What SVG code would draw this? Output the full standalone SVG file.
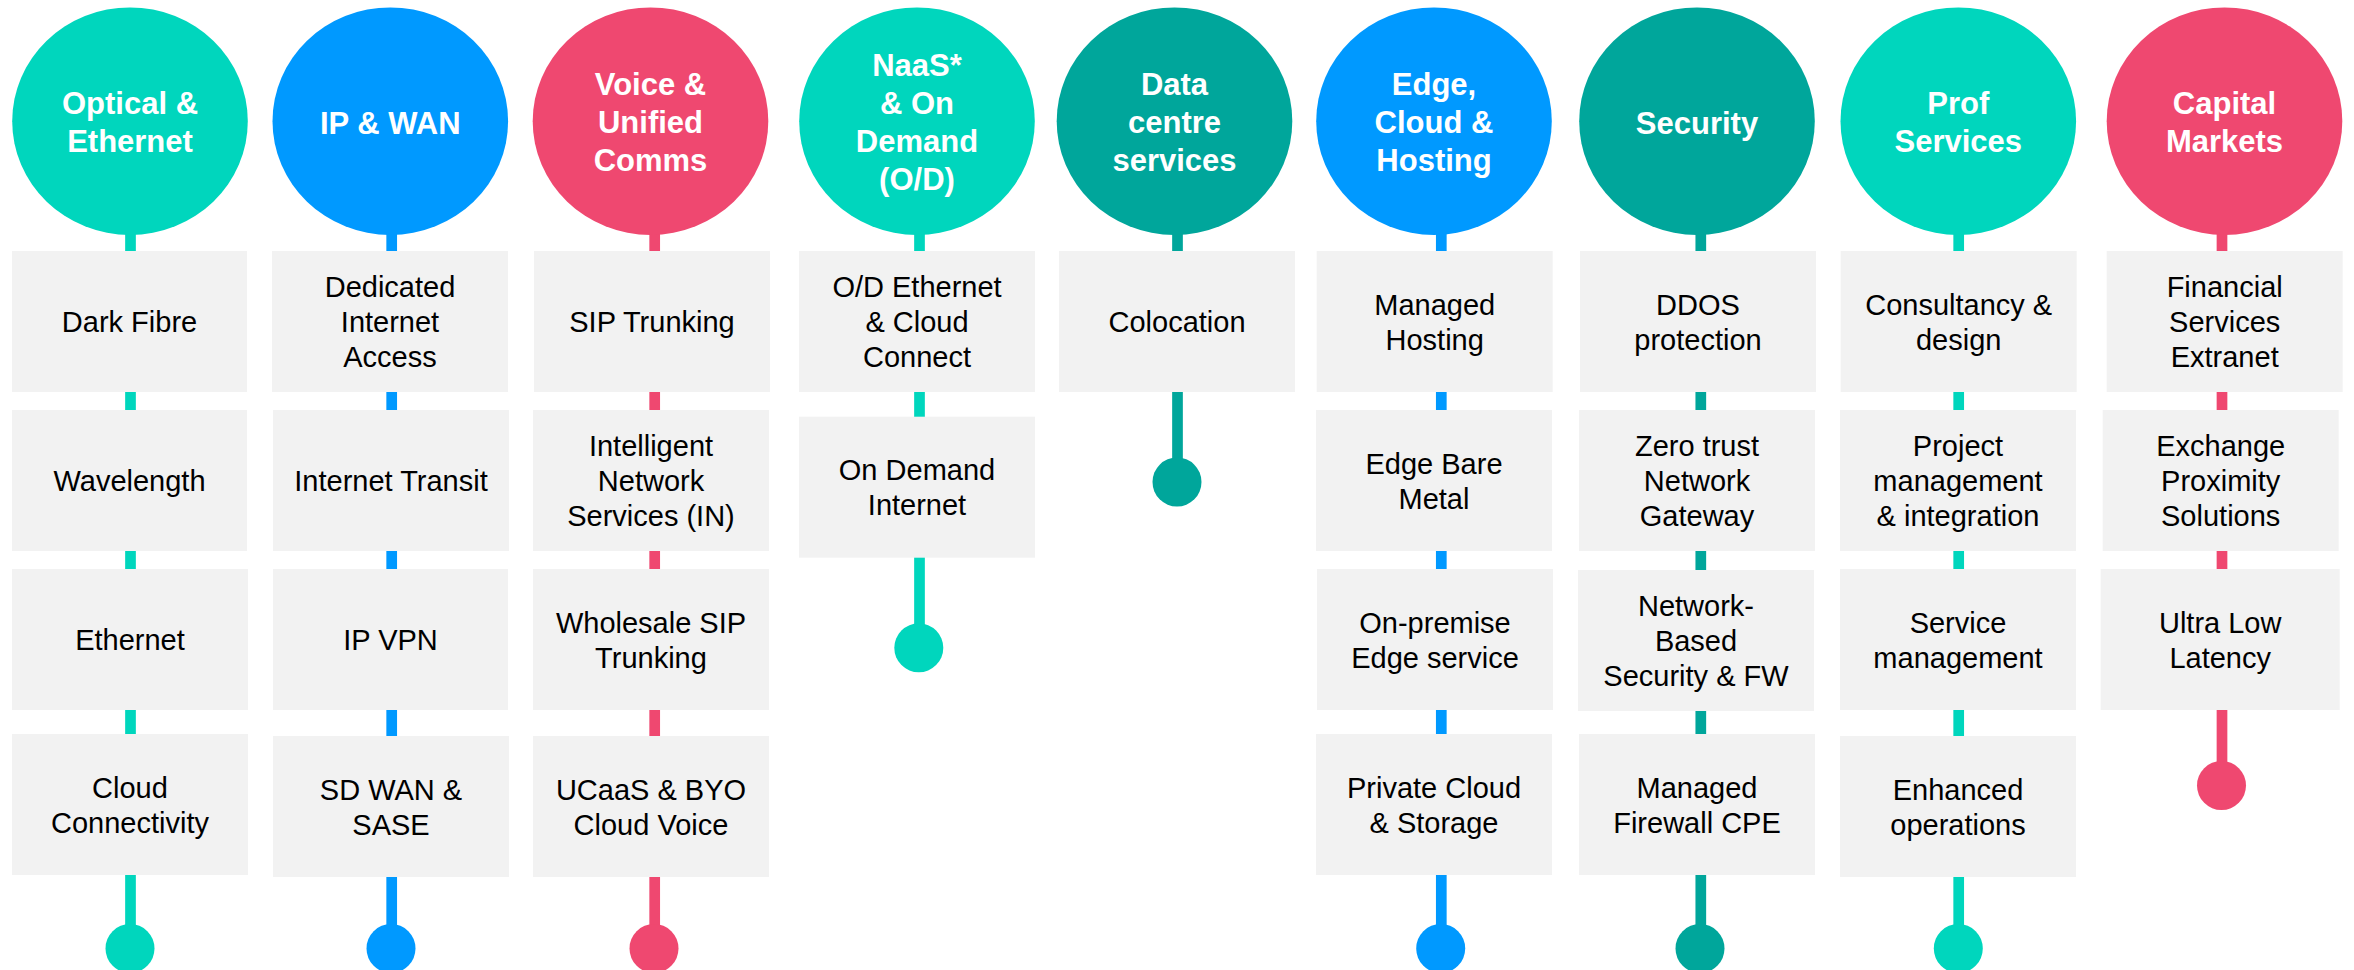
<svg xmlns="http://www.w3.org/2000/svg" width="2354" height="970" viewBox="0 0 2354 970">
<style>
.teal{fill:#00D6BD}.blue{fill:#0099FF}.pink{fill:#EF4870}.dark{fill:#00A69B}
.lteal{stroke:#00D6BD}.lblue{stroke:#0099FF}.lpink{stroke:#EF4870}.ldark{stroke:#00A69B}
.ln{stroke-width:10.7;fill:none}
.box{fill:#F2F2F2}
.hd{font-family:"Liberation Sans",Arial,sans-serif;font-weight:bold;font-size:31px;fill:#FFFFFF;text-anchor:middle}
.bt{font-family:"Liberation Sans",Arial,sans-serif;font-size:29px;fill:#000000;text-anchor:middle}
</style>
<rect width="2354" height="970" fill="#FFFFFF"/>
<g id="connectors">
<line class="ln lteal" x1="130.5" y1="200" x2="130.5" y2="948"/><circle class="teal" cx="130" cy="948.5" r="24.5"/>
<line class="ln lblue" x1="391.7" y1="200" x2="391.7" y2="948"/><circle class="blue" cx="391" cy="948.5" r="24.5"/>
<line class="ln lpink" x1="654.7" y1="200" x2="654.7" y2="948"/><circle class="pink" cx="654" cy="948.5" r="24.5"/>
<line class="ln lteal" x1="919.5" y1="200" x2="919.5" y2="647"/><circle class="teal" cx="918.8" cy="647.8" r="24.5"/>
<line class="ln ldark" x1="1177.5" y1="200" x2="1177.5" y2="482"/><circle class="dark" cx="1177" cy="482" r="24.5"/>
<line class="ln lblue" x1="1441.3" y1="200" x2="1441.3" y2="948"/><circle class="blue" cx="1440.7" cy="948.5" r="24.5"/>
<line class="ln ldark" x1="1700.8" y1="200" x2="1700.8" y2="948"/><circle class="dark" cx="1700" cy="948.5" r="24.5"/>
<line class="ln lteal" x1="1958.7" y1="200" x2="1958.7" y2="948"/><circle class="teal" cx="1958.3" cy="948.5" r="24.5"/>
<line class="ln lpink" x1="2222" y1="200" x2="2222" y2="785"/><circle class="pink" cx="2221.5" cy="785.5" r="24.5"/>
</g>

<g id="col1">
<g id="h1"><ellipse class="teal" cx="130" cy="121.2" rx="117.8" ry="113.8"/><text class="hd" x="130" y="114">Optical &amp;<tspan x="130" dy="38">Ethernet</tspan></text></g>
<g id="n1a"><rect class="box" x="12" y="251" width="235" height="141"/><text class="bt" x="129.5" y="331.5">Dark Fibre</text></g>
<g id="n1b"><rect class="box" x="12" y="410" width="235" height="141"/><text class="bt" x="129.5" y="490.5">Wavelength</text></g>
<g id="n1c"><rect class="box" x="12" y="569" width="236" height="141"/><text class="bt" x="130" y="649.5">Ethernet</text></g>
<g id="n1d"><rect class="box" x="12" y="734" width="236" height="141"/><text class="bt" x="130" y="797.5">Cloud<tspan x="130" dy="35">Connectivity</tspan></text></g>
</g>

<g id="col2">
<g id="h2"><ellipse class="blue" cx="390.3" cy="121.2" rx="117.8" ry="113.8"/><text class="hd" x="390.3" y="133.5">IP &amp; WAN</text></g>
<g id="n2a"><rect class="box" x="272" y="251" width="236" height="141"/><text class="bt" x="390" y="297">Dedicated<tspan x="390" dy="35">Internet</tspan><tspan x="390" dy="35">Access</tspan></text></g>
<g id="n2b"><rect class="box" x="273" y="410" width="236" height="141"/><text class="bt" x="391" y="490.5">Internet Transit</text></g>
<g id="n2c"><rect class="box" x="273" y="569" width="235" height="141"/><text class="bt" x="390.5" y="649.5">IP VPN</text></g>
<g id="n2d"><rect class="box" x="273" y="736" width="236" height="141"/><text class="bt" x="391" y="799.5">SD WAN &amp;<tspan x="391" dy="35">SASE</tspan></text></g>
</g>

<g id="col3">
<g id="h3"><ellipse class="pink" cx="650.5" cy="121.2" rx="117.8" ry="113.8"/><text class="hd" x="650.5" y="95">Voice &amp;<tspan x="650.5" dy="38">Unified</tspan><tspan x="650.5" dy="38">Comms</tspan></text></g>
<g id="n3a"><rect class="box" x="534" y="251" width="236" height="141"/><text class="bt" x="652" y="331.5">SIP Trunking</text></g>
<g id="n3b"><rect class="box" x="533" y="410" width="236" height="141"/><text class="bt" x="651" y="456">Intelligent<tspan x="651" dy="35">Network</tspan><tspan x="651" dy="35">Services (IN)</tspan></text></g>
<g id="n3c"><rect class="box" x="533" y="569" width="236" height="141"/><text class="bt" x="651" y="632.5">Wholesale SIP<tspan x="651" dy="35">Trunking</tspan></text></g>
<g id="n3d"><rect class="box" x="533" y="736" width="236" height="141"/><text class="bt" x="651" y="799.5">UCaaS &amp; BYO<tspan x="651" dy="35">Cloud Voice</tspan></text></g>
</g>

<g id="col4">
<g id="h4"><ellipse class="teal" cx="917" cy="121.2" rx="117.8" ry="113.8"/><text class="hd" x="917" y="76">NaaS*<tspan x="917" dy="38">&amp; On</tspan><tspan x="917" dy="38">Demand</tspan><tspan x="917" dy="38">(O/D)</tspan></text></g>
<g id="n4a"><rect class="box" x="799" y="251" width="236" height="141"/><text class="bt" x="917" y="297">O/D Ethernet<tspan x="917" dy="35">&amp; Cloud</tspan><tspan x="917" dy="35">Connect</tspan></text></g>
<g id="n4b"><rect class="box" x="799" y="416.7" width="236" height="141"/><text class="bt" x="917" y="480">On Demand<tspan x="917" dy="35">Internet</tspan></text></g>
</g>

<g id="col5">
<g id="h5"><ellipse class="dark" cx="1174.5" cy="121.2" rx="117.8" ry="113.8"/><text class="hd" x="1174.5" y="95">Data<tspan x="1174.5" dy="38">centre</tspan><tspan x="1174.5" dy="38">services</tspan></text></g>
<g id="n5a"><rect class="box" x="1059" y="251" width="236" height="141"/><text class="bt" x="1177" y="331.5">Colocation</text></g>
</g>

<g id="col6">
<g id="h6"><ellipse class="blue" cx="1434" cy="121.2" rx="117.8" ry="113.8"/><text class="hd" x="1434" y="95">Edge,<tspan x="1434" dy="38">Cloud &amp;</tspan><tspan x="1434" dy="38">Hosting</tspan></text></g>
<g id="n6a"><rect class="box" x="1316.7" y="251" width="236" height="141"/><text class="bt" x="1434.7" y="315">Managed<tspan x="1434.7" dy="35">Hosting</tspan></text></g>
<g id="n6b"><rect class="box" x="1316" y="410" width="236" height="141"/><text class="bt" x="1434" y="474">Edge Bare<tspan x="1434" dy="35">Metal</tspan></text></g>
<g id="n6c"><rect class="box" x="1317" y="569" width="236" height="141"/><text class="bt" x="1435" y="632.5">On-premise<tspan x="1435" dy="35">Edge service</tspan></text></g>
<g id="n6d"><rect class="box" x="1316" y="734" width="236" height="141"/><text class="bt" x="1434" y="797.5">Private Cloud<tspan x="1434" dy="35">&amp; Storage</tspan></text></g>
</g>

<g id="col7">
<g id="h7"><ellipse class="dark" cx="1697" cy="121.2" rx="117.8" ry="113.8"/><text class="hd" x="1697" y="134">Security</text></g>
<g id="n7a"><rect class="box" x="1580" y="251" width="236" height="141"/><text class="bt" x="1698" y="315">DDOS<tspan x="1698" dy="35">protection</tspan></text></g>
<g id="n7b"><rect class="box" x="1579" y="410" width="236" height="141"/><text class="bt" x="1697" y="456">Zero trust<tspan x="1697" dy="35">Network</tspan><tspan x="1697" dy="35">Gateway</tspan></text></g>
<g id="n7c"><rect class="box" x="1578" y="570" width="236" height="141"/><text class="bt" x="1696" y="616">Network-<tspan x="1696" dy="35">Based</tspan><tspan x="1696" dy="35">Security &amp; FW</tspan></text></g>
<g id="n7d"><rect class="box" x="1579" y="734" width="236" height="141"/><text class="bt" x="1697" y="797.5">Managed<tspan x="1697" dy="35">Firewall CPE</tspan></text></g>
</g>

<g id="col8">
<g id="h8"><ellipse class="teal" cx="1958.3" cy="121.2" rx="117.8" ry="113.8"/><text class="hd" x="1958.3" y="114">Prof<tspan x="1958.3" dy="38">Services</tspan></text></g>
<g id="n8a"><rect class="box" x="1840.7" y="251" width="236" height="141"/><text class="bt" x="1958.7" y="315">Consultancy &amp;<tspan x="1958.7" dy="35">design</tspan></text></g>
<g id="n8b"><rect class="box" x="1840" y="410" width="236" height="141"/><text class="bt" x="1958" y="456">Project<tspan x="1958" dy="35">management</tspan><tspan x="1958" dy="35">&amp; integration</tspan></text></g>
<g id="n8c"><rect class="box" x="1840" y="569" width="236" height="141"/><text class="bt" x="1958" y="632.5">Service<tspan x="1958" dy="35">management</tspan></text></g>
<g id="n8d"><rect class="box" x="1840" y="736" width="236" height="141"/><text class="bt" x="1958" y="799.5">Enhanced<tspan x="1958" dy="35">operations</tspan></text></g>
</g>

<g id="col9">
<g id="h9"><ellipse class="pink" cx="2224.5" cy="121.2" rx="117.8" ry="113.8"/><text class="hd" x="2224.5" y="114">Capital<tspan x="2224.5" dy="38">Markets</tspan></text></g>
<g id="n9a"><rect class="box" x="2106.7" y="251" width="236" height="141"/><text class="bt" x="2224.7" y="297">Financial<tspan x="2224.7" dy="35">Services</tspan><tspan x="2224.7" dy="35">Extranet</tspan></text></g>
<g id="n9b"><rect class="box" x="2102.7" y="410" width="236" height="141"/><text class="bt" x="2220.7" y="456">Exchange<tspan x="2220.7" dy="35">Proximity</tspan><tspan x="2220.7" dy="35">Solutions</tspan></text></g>
<g id="n9c"><rect class="box" x="2100.7" y="569" width="239" height="141"/><text class="bt" x="2220.2" y="632.5">Ultra Low<tspan x="2220.2" dy="35">Latency</tspan></text></g>
</g>
</svg>
